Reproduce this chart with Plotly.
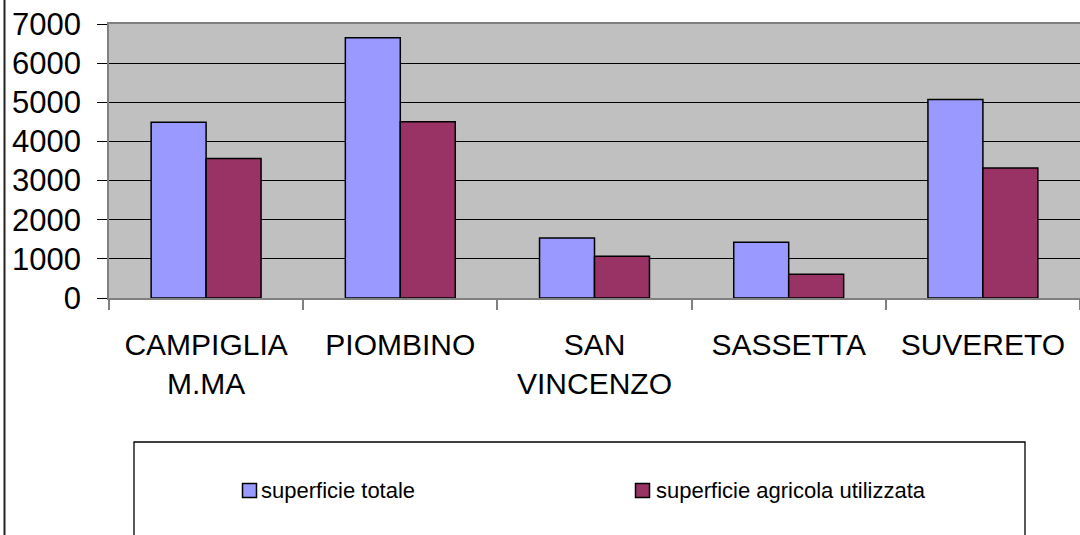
import plotly.graph_objects as go

categories = ["CAMPIGLIA<br>M.MA", "PIOMBINO", "SAN<br>VINCENZO", "SASSETTA", "SUVERETO"]
superficie_totale = [4490, 6650, 1530, 1425, 5070]
superficie_agricola = [3565, 4500, 1065, 605, 3320]
series_names = ["superficie totale", "superficie agricola utilizzata"]
y_ticks = [0, 1000, 2000, 3000, 4000, 5000, 6000, 7000]

W, H = 1080, 535
ML, MR, MT, MB = 109, 0, 24, 237
PW = W - ML - MR
PH = H - MT - MB

def px(x):
    return (x - ML) / PW

def py(y):
    return (H - MB - y) / PH

BLUE = "#9999FF"
RED = "#993366"
FONT = "Liberation Sans, Arial, sans-serif"

fig = go.Figure()
fig.add_trace(go.Bar(x=categories, y=superficie_totale, name=series_names[0],
                     marker=dict(color=BLUE, line=dict(color="black", width=1.5))))
fig.add_trace(go.Bar(x=categories, y=superficie_agricola, name=series_names[1],
                     marker=dict(color=RED, line=dict(color="black", width=1.5))))

shapes = [
    # outer chart border (left)
    dict(type="line", xref="paper", yref="paper", x0=px(4.5), x1=px(4.5), y0=py(0), y1=py(540),
         line=dict(color="#222222", width=2)),
    # legend box
    dict(type="rect", xref="paper", yref="paper", x0=px(134), x1=px(1025), y0=py(442), y1=py(560),
         line=dict(color="black", width=1.3), fillcolor="white", layer="below"),
    dict(type="rect", xref="paper", yref="paper", x0=px(242.5), x1=px(256.5), y0=py(483.5), y1=py(497.5),
         line=dict(color="black", width=1.5), fillcolor=BLUE),
    dict(type="rect", xref="paper", yref="paper", x0=px(635.5), x1=px(649.5), y0=py(483.5), y1=py(497.5),
         line=dict(color="black", width=1.5), fillcolor=RED),
]
annotations = [
    dict(xref="paper", yref="paper", x=px(259), y=py(490), text=series_names[0], showarrow=False,
         xanchor="left", yanchor="middle", font=dict(family=FONT, size=22, color="black")),
    dict(xref="paper", yref="paper", x=px(654), y=py(490), text=series_names[1], showarrow=False,
         xanchor="left", yanchor="middle", font=dict(family=FONT, size=22, color="black")),
]

fig.update_layout(
    width=W, height=H,
    margin=dict(l=ML, r=MR, t=MT, b=MB, pad=0),
    paper_bgcolor="white",
    plot_bgcolor="#C0C0C0",
    barmode="group",
    bargap=0.434,
    bargroupgap=0,
    showlegend=False,
    font=dict(family=FONT, color="black"),
    shapes=shapes,
    annotations=annotations,
    xaxis=dict(
        type="category",
        showline=True, linecolor="#808080", linewidth=1.5, mirror=True,
        ticks="outside", tickson="boundaries", ticklen=10, tickcolor="#808080", tickwidth=1.5,
        showgrid=False,
        tickfont=dict(family=FONT, size=30, color="black"),
        ticklabelstandoff=19,
        fixedrange=True,
    ),
    yaxis=dict(
        range=[0, 7000],
        tickvals=y_ticks,
        ticktext=[str(v) for v in y_ticks],
        showline=True, linecolor="#808080", linewidth=1.5, mirror=False,
        ticks="outside", ticklen=10, tickcolor="black", tickwidth=1.2,
        showgrid=True, gridcolor="black", gridwidth=1.2,
        zeroline=False,
        tickfont=dict(family=FONT, size=31, color="black"),
        ticklabelstandoff=10,
        fixedrange=True,
    ),
)

fig.write_html(
    "out.html",
    config={"displayModeBar": False},
    post_script="document.body.style.margin='0';document.body.style.overflow='hidden';",
)
